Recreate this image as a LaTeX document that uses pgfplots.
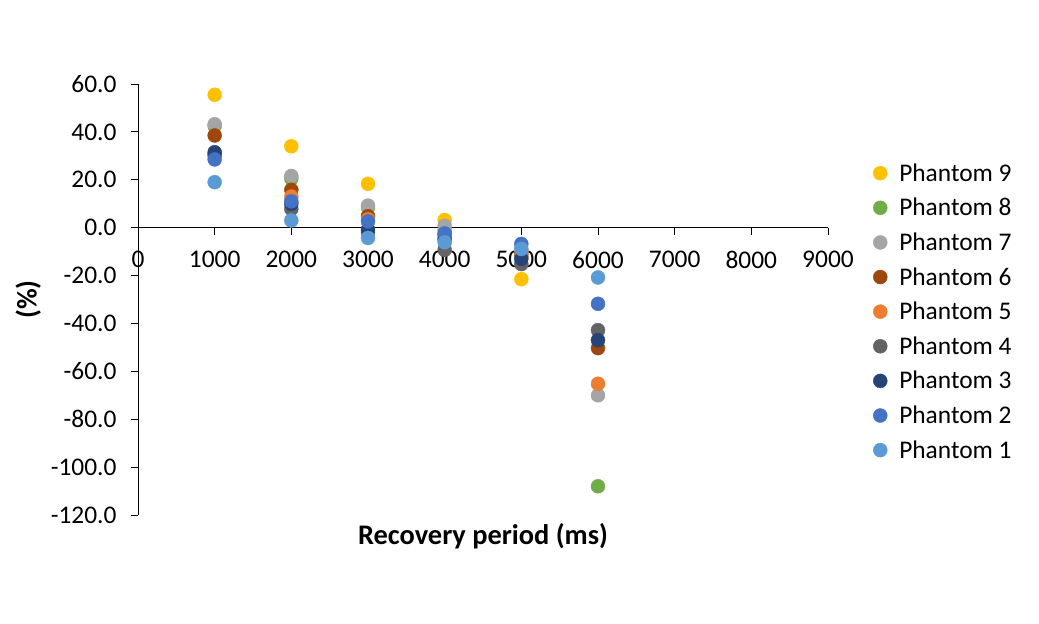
\documentclass[border=0pt]{standalone}
\usepackage{fontspec}
\setmainfont{Carlito}
\usepackage{pgfplots}
\pgfplotsset{compat=1.18}

\definecolor{p9}{HTML}{FFC000}
\definecolor{p8}{HTML}{70AD47}
\definecolor{p7}{HTML}{A5A5A5}
\definecolor{p6}{HTML}{9E480E}
\definecolor{p5}{HTML}{ED7D31}
\definecolor{p4}{HTML}{636363}
\definecolor{p3}{HTML}{264478}
\definecolor{p2}{HTML}{4472C4}
\definecolor{p1}{HTML}{5B9BD5}

\begin{document}
\begin{tikzpicture}
\useasboundingbox (-138bp,-109bp) rectangle (901bp,515bp);
\begin{axis}[
  at={(0,0)}, anchor=south west,
  scale only axis, width=690bp, height=431bp,
  xmin=0, xmax=9000, ymin=-120, ymax=60,
  enlargelimits=false,
  axis x line=middle, axis y line=left,
  axis line style={-, black, line width=0.8pt},
  hide obscured x ticks=false,
  xtick distance=1000, ytick distance=20,
  tick align=outside, major tick length=7bp,
  tick style={black, line width=0.8pt},
  /pgf/number format/assume math mode=true,
  ticklabel style={font=\fontsize{25.5}{30}\selectfont},
  xticklabel style={anchor=north, yshift=-13bp},
  yticklabel style={xshift=-11bp},
  xticklabel={\pgfmathprintnumber[fixed,1000 sep={}]{\tick}},
  yticklabel={\pgfmathprintnumber[fixed,fixed zerofill,precision=1]{\tick}},
  xlabel={\textbf{Recovery period (ms)}},
  ylabel={\textbf{(\%)}},
  every axis x label/.style={at={(axis description cs:0.5,0)}, anchor=north, yshift=-5bp, font=\fontsize{28.5}{32}\selectfont},
  every axis y label/.style={at={(axis description cs:-0.159,0.5)}, anchor=center, rotate=90, font=\fontsize{28.5}{32}\selectfont},
  legend style={at={(1.061,0.825)}, anchor=north west, draw=none, fill=none,
    font=\fontsize{25.5}{30}\selectfont, row sep=11.5bp, column sep=10bp,
    legend cell align=left},
  every axis plot/.append style={only marks, mark=*, mark size=7bp},
]
\addplot[p9, mark options={draw=p9, fill=p9}] coordinates {(1000,55.5) (2000,34.0) (3000,18.3) (4000,3.2) (5000,-21.5)};
\addplot[p8, mark options={draw=p8, fill=p8}] coordinates {(1000,42.5) (2000,20.5) (3000,8.5) (4000,-1.0) (5000,-10.0) (6000,-108.0)};
\addplot[p7, mark options={draw=p7, fill=p7}] coordinates {(1000,43.2) (2000,21.6) (3000,9.2) (4000,0.8) (5000,-9.5) (6000,-70.0)};
\addplot[p6, mark options={draw=p6, fill=p6}] coordinates {(1000,38.5) (2000,15.8) (3000,4.8) (4000,-3.0) (5000,-11.0) (6000,-50.3)};
\addplot[p5, mark options={draw=p5, fill=p5}] coordinates {(1000,30.0) (2000,13.0) (3000,3.5) (4000,-4.0) (5000,-12.0) (6000,-65.2)};
\addplot[p4, mark options={draw=p4, fill=p4}] coordinates {(1000,30.5) (2000,7.8) (3000,-2.0) (4000,-9.3) (5000,-15.2) (6000,-42.8)};
\addplot[p3, mark options={draw=p3, fill=p3}] coordinates {(1000,31.5) (2000,10.0) (3000,-0.8) (4000,-5.0) (5000,-13.0) (6000,-47.0)};
\addplot[p2, mark options={draw=p2, fill=p2}] coordinates {(1000,28.5) (2000,11.0) (3000,2.6) (4000,-2.4) (5000,-6.8) (6000,-31.8)};
\addplot[p1, mark options={draw=p1, fill=p1}] coordinates {(1000,19.0) (2000,3.0) (3000,-4.3) (4000,-6.1) (5000,-8.9) (6000,-20.8)};
\legend{Phantom 9, Phantom 8, Phantom 7, Phantom 6, Phantom 5, Phantom 4, Phantom 3, Phantom 2, Phantom 1}
\end{axis}
\end{tikzpicture}
\end{document}
